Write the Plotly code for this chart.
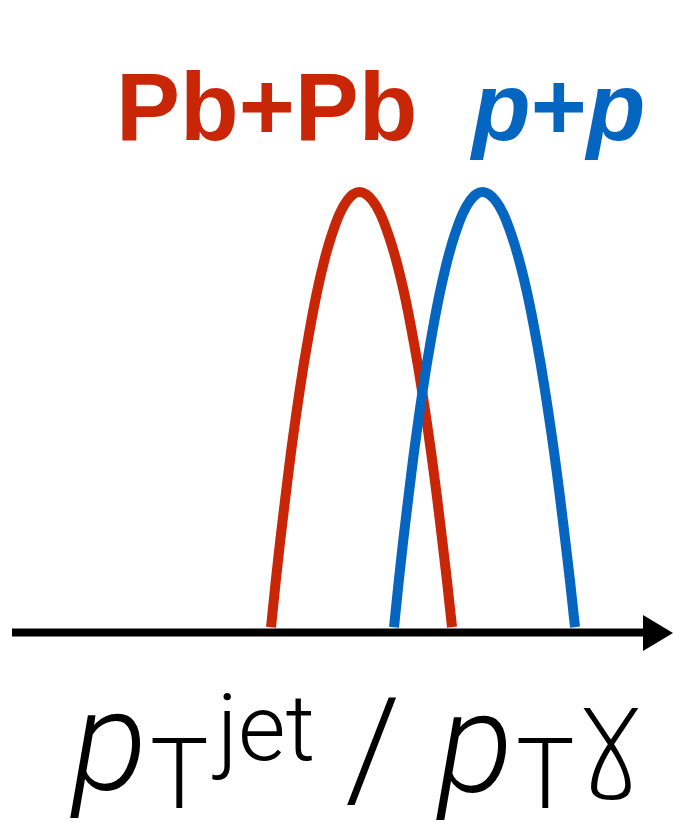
import plotly.graph_objects as go

# ---- data (x in horizontal plot units, y = relative height, peak = 1) ----
pbpb_x = [271.0, 275.5, 280.3, 285.5, 290.9, 296.9, 303.5, 311.0, 317.5, 325.2, 331.5, 339.7, 347.0, 353.2,
          359.5,
          366.0, 372.6, 380.2, 388.7, 395.3, 403.4, 410.2, 418.0, 424.9, 431.2, 436.9, 442.2, 447.3, 452.0]
pbpb_y = [0.011, 0.110, 0.209, 0.308, 0.407, 0.506, 0.605, 0.703, 0.778, 0.852, 0.901, 0.951, 0.980, 0.995,
          1.0,
          0.995, 0.980, 0.951, 0.901, 0.852, 0.778, 0.703, 0.605, 0.506, 0.407, 0.308, 0.209, 0.110, 0.011]
pp_x = [394.0, 398.5, 403.3, 408.5, 413.9, 419.9, 426.5, 434.0, 440.5, 448.2, 454.5, 462.7, 470.0, 476.2,
        482.5,
        489.0, 495.6, 503.2, 511.7, 518.3, 526.4, 533.2, 541.0, 547.9, 554.2, 559.9, 565.2, 570.3, 575.0]
pp_y = [0.011, 0.110, 0.209, 0.308, 0.407, 0.506, 0.605, 0.703, 0.778, 0.852, 0.901, 0.951, 0.980, 0.995,
        1.0,
        0.995, 0.980, 0.951, 0.901, 0.852, 0.778, 0.703, 0.605, 0.506, 0.407, 0.308, 0.209, 0.110, 0.011]
series_labels = ["Pb+Pb", "p+p"]

RED = "#C92608"
BLUE = "#0466C0"
W, H = 673, 823
AXIS_PX = 632      # pixel row of the x axis
UNIT = 440         # pixels per unit height

def yd(py):
    return (AXIS_PX - py) / UNIT

def px(x):
    return x / W

def py_(y):
    return 1 - y / H

fig = go.Figure()
fig.add_trace(go.Scatter(x=pbpb_x, y=pbpb_y, mode="lines", name=series_labels[0],
                         line=dict(color=RED, width=10, shape="spline", smoothing=0.6)))
fig.add_trace(go.Scatter(x=pp_x, y=pp_y, mode="lines", name=series_labels[1],
                         line=dict(color=BLUE, width=10, shape="spline", smoothing=0.6)))

# axis arrow
fig.add_shape(type="line", xref="x", yref="y", x0=12, x1=648, y0=yd(632.5), y1=yd(632.5),
              line=dict(color="black", width=8))
fig.add_shape(type="path", xref="x", yref="y",
              path=f"M 643,{yd(615)} L 673,{yd(633)} L 643,{yd(651)} Z",
              fillcolor="black", line=dict(width=0))

ann = []
# series labels
ann.append(dict(text="<b>Pb+Pb</b>", x=px(114), y=py_(106), xref="paper", yref="paper",
                xanchor="left", yanchor="middle", showarrow=False,
                font=dict(family="Liberation Sans", size=96, color=RED)))
ann.append(dict(text="<b><i>p</i>+<i>p</i></b>", x=px(647), y=py_(106), xref="paper", yref="paper",
                xanchor="right", yanchor="middle", showarrow=False,
                font=dict(family="Liberation Sans", size=96, color=BLUE)))

# axis title pieces
def piece(text, x, y, size, italic=False, family="Roboto"):
    t = f"<i>{text}</i>" if italic else text
    ann.append(dict(text=t, x=px(x), y=py_(y), xref="paper", yref="paper",
                    xanchor="left", yanchor="middle", showarrow=False,
                    font=dict(family=family, size=size, color="black", weight=300)))

piece("p", 68, 742, 140, italic=True)
piece("T", 148, 774, 98)
piece("jet", 210, 728, 92)
piece("/", 343, 749, 140)
piece("p", 434, 744, 140, italic=True)
piece("T", 514, 774, 98)
piece("ɣ", 566, 732, 122, family="DejaVu Sans")

fig.update_layout(
    width=W, height=H,
    margin=dict(l=0, r=0, t=0, b=0),
    paper_bgcolor="white", plot_bgcolor="white",
    showlegend=False,
    xaxis=dict(range=[0, W], visible=False, fixedrange=True),
    yaxis=dict(range=[yd(H), yd(0)], visible=False, fixedrange=True),
    annotations=ann,
)

fig.write_html("out.html", config={"displayModeBar": False})
